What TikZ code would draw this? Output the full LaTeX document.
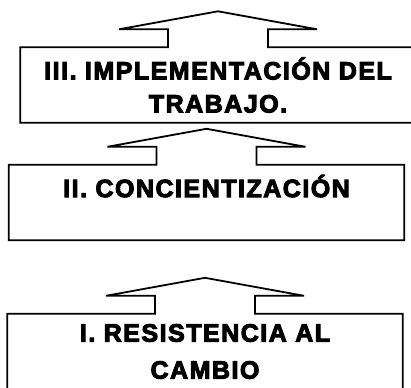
\documentclass[tikz,border=0pt]{standalone}
\usepackage{fontspec}
\setmainfont{Liberation Sans}
\newfontfamily\heavyfont{Liberation Sans Bold}[FakeBold=4, LetterSpace=6]
\begin{document}
\begin{tikzpicture}[x=1pt, y=-1pt,
    stage/.style={minimum width=395pt, minimum height=75pt, inner sep=0pt, align=center,
      font=\heavyfont\fontsize{25}{33}\selectfont},
    outline/.style={line width=1.8pt, line join=miter}]
    \clip (0,0) rectangle (411,387);
    \node[stage] (III) at (218,85) {III. IMPLEMENTACIÓN DEL\\TRABAJO.};
    \node[stage] (II) at (206.5,202.5) {II. CONCIENTIZACIÓN\\ \mbox{}};
    \node[stage] (I) at (205,351.5) {I. RESISTENCIA AL\\[4pt]CAMBIO};

    % Draw the outlines
    \draw[outline] (III.north west) -- ([xshift=-50pt]III.north)
      -- ([xshift=-50pt,yshift=18pt]III.north) -- ([xshift=-99pt,yshift=18pt]III.north)
      -- ([yshift=36pt]III.north) -- ([xshift=99pt,yshift=18pt]III.north)
      -- ([xshift=50pt,yshift=18pt]III.north) -- ([xshift=50pt]III.north)
      -- (III.north east) -- (III.south east) -- (III.south west) -- cycle;
    \draw[outline] (II.north west) -- ([xshift=-50pt]II.north)
      -- ([xshift=-50pt,yshift=18pt]II.north) -- ([xshift=-99pt,yshift=18pt]II.north)
      -- ([yshift=36pt]II.north) -- ([xshift=99pt,yshift=18pt]II.north)
      -- ([xshift=50pt,yshift=18pt]II.north) -- ([xshift=50pt]II.north)
      -- (II.north east) -- (II.south east) -- (II.south west) -- cycle;
    \draw[outline] (I.north west) -- ([xshift=-50pt]I.north)
      -- ([xshift=-50pt,yshift=18pt]I.north) -- ([xshift=-99pt,yshift=18pt]I.north)
      -- ([yshift=36pt]I.north) -- ([xshift=99pt,yshift=18pt]I.north)
      -- ([xshift=50pt,yshift=18pt]I.north) -- ([xshift=50pt]I.north)
      -- (I.north east) -- (I.south east) -- (I.south west) -- cycle;
\end{tikzpicture}
\end{document}
